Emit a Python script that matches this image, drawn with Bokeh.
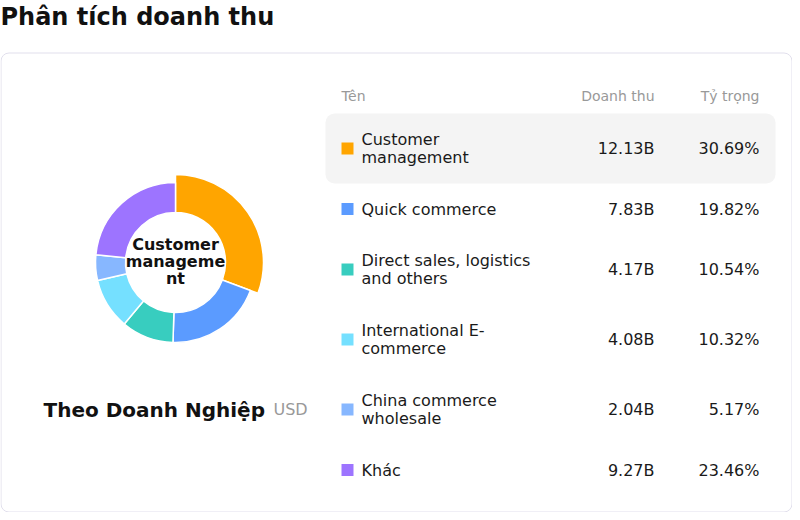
import math
from bokeh.plotting import figure
from bokeh.models import Range1d, ColumnDataSource
from bokeh.core.properties import value
from bokeh.embed import file_html
from bokeh.resources import INLINE

# ---- data ----
title = "Phân tích doanh thu"
subtitle = "Theo Doanh Nghiệp"
unit = "USD"
headers = ["Tên", "Doanh thu", "Tỷ trọng"]
names = ["Customer\nmanagement", "Quick commerce", "Direct sales, logistics\nand others",
         "International E-\ncommerce", "China commerce\nwholesale", "Khác"]
revenue_b = [12.13, 7.83, 4.17, 4.08, 2.04, 9.27]
share_pct = [30.69, 19.82, 10.54, 10.32, 5.17, 23.46]
colors = ["#ffa500", "#5b9bff", "#38cdbf", "#75e0ff", "#87b7ff", "#9d74ff"]
center_label = "Customer\nmanageme\nnt"
highlight = 0

FONT = "DejaVu Sans"
W, H = 792, 512


def Y(v):
    return H - v


p = figure(width=W, height=H, x_range=Range1d(0, W), y_range=Range1d(0, H),
           output_backend="svg", toolbar_location=None, min_border=0)
p.axis.visible = False
p.grid.visible = False
p.outline_line_color = None
p.background_fill_color = "white"
p.border_fill_color = "white"

# card
p.quad(left=[0.5], right=[W - 0.5], top=[Y(52.5)], bottom=[Y(H - 0.5)],
       fill_color="white", line_color="#e1dfec", line_width=1, border_radius=8)

# title
p.text(x=[0], y=[Y(16)], text=[title], text_font=value(FONT), text_font_style="bold",
       text_font_size="24px", text_color="#111111", text_align="left", text_baseline="middle")

# donut
total = sum(revenue_b)
starts, ends, cum = [], [], 0.0
for v in revenue_b:
    starts.append(math.pi / 2 - 2 * math.pi * cum / total)
    cum += v
    ends.append(math.pi / 2 - 2 * math.pi * cum / total)
outer = [88 if i == highlight else 80 for i in range(len(revenue_b))]
wsrc = ColumnDataSource(dict(start=starts, end=ends, color=colors, outer=outer))
cx, cy = 175, Y(262)
p.annular_wedge(x=cx, y=cy, inner_radius=50, outer_radius="outer",
                inner_radius_units="screen", outer_radius_units="screen",
                start_angle="start", end_angle="end", direction="clock",
                fill_color="color", line_color="white", line_width=1.5, source=wsrc)
p.text(x=[cx], y=[Y(261)], text=[center_label], text_font=value(FONT), text_font_style="bold",
       text_font_size="16px", text_color="#111111", text_align="center", text_baseline="middle",
       text_line_height=0.88)

# subtitle
p.text(x=[43], y=[Y(409)], text=[subtitle], text_font=value(FONT), text_font_style="bold",
       text_font_size="20px", text_color="#111111", text_align="left", text_baseline="middle")
p.text(x=[273], y=[Y(409)], text=[unit], text_font=value(FONT),
       text_font_size="16px", text_color="#999999", text_align="left", text_baseline="middle")

# table header
hx = [341, 654, 759]
ha = ["left", "right", "right"]
for t, x, a in zip(headers, hx, ha):
    p.text(x=[x], y=[Y(95)], text=[t], text_font=value(FONT), text_font_size="14px",
           text_color="#999999", text_align=a, text_baseline="middle")

# rows layout
ys, top = [], 113
for n in names:
    h = 70 if "\n" in n else 51
    ys.append(top + h / 2)
    if len(ys) - 1 == highlight:
        p.quad(left=[325], right=[775], top=[Y(top)], bottom=[Y(top + h)],
               fill_color="#f4f4f4", line_color=None, border_radius=9)
    top += h

ysd = [Y(v) for v in ys]
src = ColumnDataSource(dict(
    y=ysd, name=names, color=colors,
    rev=[f"{v:.2f}B" for v in revenue_b],
    pct=[f"{v:.2f}%" for v in share_pct]))
p.scatter(x=347, y="y", marker="square", size=12, fill_color="color", line_color=None, source=src)
p.text(x=361, y="y", text="name", text_font=value(FONT), text_font_size="16px",
       text_color="#1a1a1a", text_align="left", text_baseline="middle",
       text_line_height=0.98, source=src)
p.text(x=654, y="y", text="rev", text_font=value(FONT), text_font_size="16px",
       text_color="#1a1a1a", text_align="right", text_baseline="middle", source=src)
p.text(x=759, y="y", text="pct", text_font=value(FONT), text_font_size="16px",
       text_color="#1a1a1a", text_align="right", text_baseline="middle", source=src)

open("out.html", "w").write(file_html(p, INLINE))
